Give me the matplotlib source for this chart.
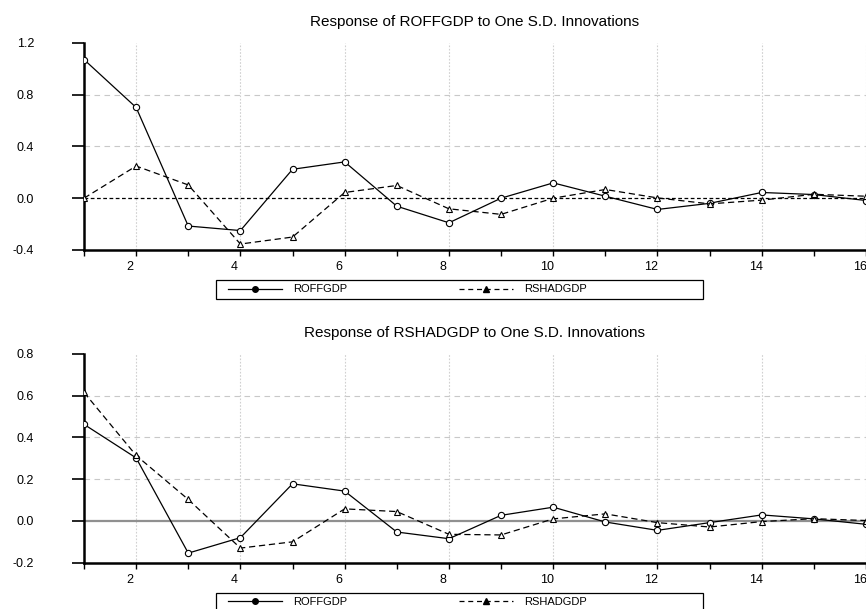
import matplotlib
matplotlib.use("Agg")
import matplotlib.pyplot as plt
from matplotlib.lines import Line2D
from matplotlib.patches import Rectangle
import matplotlib.transforms as mtransforms

plt.rcParams['font.family'] = ['Liberation Sans', 'DejaVu Sans']

periods = list(range(1, 17))
xtick_labels = ['2', '4', '6', '8', '10', '12', '14', '16']

top_title = "Response of ROFFGDP to One S.D. Innovations"
top_roff = [1.07, 0.70, -0.215, -0.25, 0.223, 0.28, -0.062, -0.19, 0.0, 0.118,
            0.015, -0.087, -0.04, 0.044, 0.028, -0.018]
top_rshad = [0.0, 0.248, 0.102, -0.354, -0.30, 0.044, 0.098, -0.082, -0.125, 0.0,
             0.067, 0.002, -0.044, -0.015, 0.03, 0.015]
top_yticks = [-0.4, 0.0, 0.4, 0.8, 1.2]

bot_title = "Response of RSHADGDP to One S.D. Innovations"
bot_roff = [0.463, 0.302, -0.154, -0.08, 0.178, 0.143, -0.053, -0.085, 0.027, 0.066,
            -0.005, -0.045, -0.008, 0.029, 0.01, -0.016]
bot_rshad = [0.616, 0.314, 0.103, -0.13, -0.10, 0.058, 0.045, -0.064, -0.067, 0.01,
             0.034, -0.008, -0.029, -0.003, 0.011, 0.002]
bot_yticks = [-0.2, 0.0, 0.2, 0.4, 0.6, 0.8]

series_names = ["ROFFGDP", "RSHADGDP"]

W, H = 866, 609
fig = plt.figure(figsize=(W / 100, H / 100), dpi=100)

def px_rect(x0, y0, x1, y1):
    return [x0 / W, 1 - y1 / H, (x1 - x0) / W, (y1 - y0) / H]

def draw_panel(rect, title, roff, rshad, yticks, zero_style, legend_top):
    ax = fig.add_axes(rect)
    ax.set_xlim(1, 16)
    ax.set_ylim(yticks[0], yticks[-1])
    for y in yticks[1:-1]:
        if y != 0.0:
            ax.axhline(y, color='#c8c8c8', lw=0.8, ls=(0, (5, 4)), zorder=0)
    for x in range(2, 17, 2):
        ax.axvline(x, color='#d0d0d0', lw=0.8, ls=(0, (1.5, 1.5)), zorder=0)
    if zero_style == 'dash':
        ax.axhline(0, color='black', lw=0.9, ls=(0, (3, 2)), zorder=1)
    else:
        ax.axhline(0, color='#909090', lw=1.6, zorder=1)
    ax.plot(periods, roff, color='black', lw=0.9, marker='o', ms=4.5,
            mfc='white', mec='black', mew=0.8, zorder=3)
    ax.plot(periods, rshad, color='black', lw=0.9, ls=(0, (5, 3)), marker='^',
            ms=5, mfc='white', mec='black', mew=0.8, zorder=3)
    for s in ['top', 'right']:
        ax.spines[s].set_visible(False)
    for s in ['left', 'bottom']:
        ax.spines[s].set_linewidth(1.8)
    ax.set_yticks(yticks)
    ax.set_yticklabels([f"{v:.1f}" for v in yticks], fontsize=9)
    ax.tick_params(axis='y', length=9, width=1.2, pad=27)
    ax.set_xticks(periods)
    ax.set_xticklabels([str(p) if str(p) in xtick_labels else '' for p in periods],
                       fontsize=9)
    ax.tick_params(axis='x', length=4, width=1.0, pad=4)
    off = mtransforms.ScaledTranslation(-6 / 100, 0, fig.dpi_scale_trans)
    for lab in ax.get_xticklabels():
        lab.set_transform(lab.get_transform() + off)
    ax.set_title(title, fontsize=11, pad=12)

    handles = [
        Line2D([], [], color='black', lw=0.9, marker='o', ms=4, mfc='black'),
        Line2D([], [], color='black', lw=0.9, ls=(0, (4, 3)), marker='^', ms=4.5, mfc='black'),
    ]
    x0, x1 = 215.7, 703
    y0 = legend_top
    fig.patches.append(Rectangle((x0 / W, 1 - (y0 + 19) / H), (x1 - x0) / W, 19 / H,
                                 transform=fig.transFigure, fill=False,
                                 edgecolor='black', lw=0.9))
    fig.legend(handles, series_names, loc='center left',
               bbox_to_anchor=(228 / W, 1 - (y0 + 9.5) / H),
               ncol=2, fontsize=8, frameon=False, borderaxespad=0,
               borderpad=0, handlelength=4.86, handletextpad=1.0,
               columnspacing=10.1)
    return ax

draw_panel(px_rect(84, 42.7, 866, 250), top_title, top_roff, top_rshad,
           top_yticks, 'dash', 280)
draw_panel(px_rect(84, 354, 866, 562.7), bot_title, bot_roff, bot_rshad,
           bot_yticks, 'solid', 592.7)

fig.savefig("out.png", dpi=100)
